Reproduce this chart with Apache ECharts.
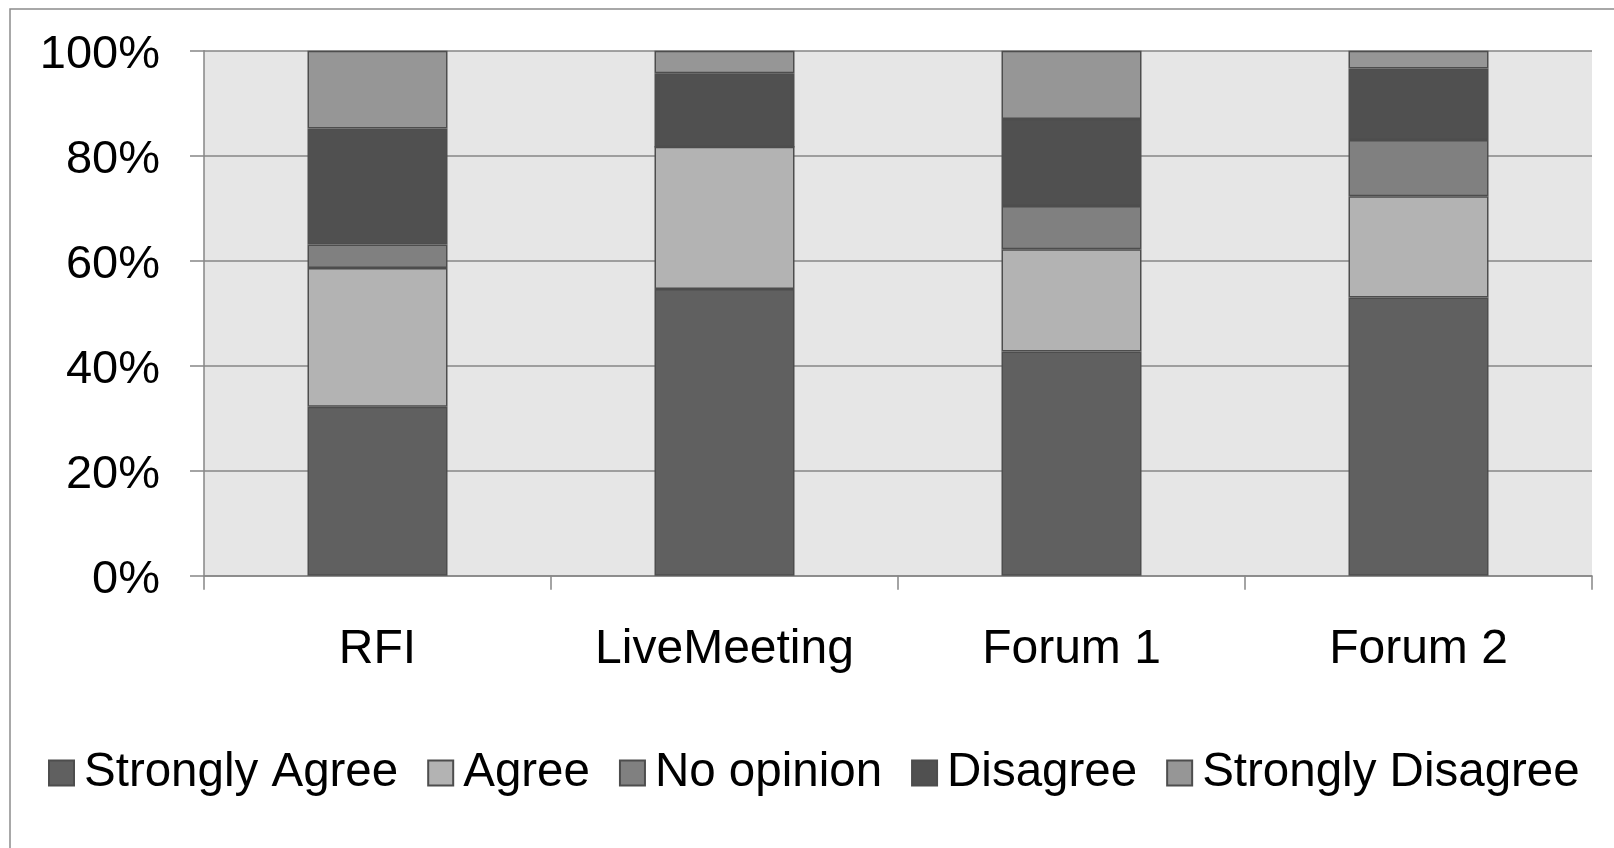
<!DOCTYPE html>
<html>
<head>
<meta charset="utf-8">
<script src="https://cdn.jsdelivr.net/npm/echarts@6/dist/echarts.min.js"></script>
<style>
html,body{margin:0;padding:0;background:#fff;}
#chart{width:1614px;height:848px;}
</style>
</head>
<body>
<div id="chart"></div>
<script>
var categories = ['RFI', 'LiveMeeting', 'Forum 1', 'Forum 2'];
var seriesNames = ['Strongly Agree', 'Agree', 'No opinion', 'Disagree', 'Strongly Disagree'];
var stronglyAgree    = [32.2, 54.6, 42.7, 53.0];
var agree            = [26.4, 27.1, 19.5, 19.3];
var noOpinion        = [4.5, 0, 8.2, 10.7];
var disagree         = [22.1, 14.0, 16.6, 13.6];
var stronglyDisagree = [14.8, 4.3, 13.0, 3.4];
var yTicks = [0, 20, 40, 60, 80, 100];

var colors = ['#606060', '#b3b3b3', '#808080', '#505050', '#969696'];
var values = [stronglyAgree, agree, noOpinion, disagree, stronglyDisagree];
var FONT = '"Liberation Sans", Arial, sans-serif';

var chart = echarts.init(document.getElementById('chart'), null, {renderer: 'canvas'});
var series = seriesNames.map(function (name, i) {
  return {
    name: name,
    type: 'bar',
    stack: 'total',
    barWidth: 140,
    data: values[i],
    itemStyle: {color: colors[i], borderColor: '#4d4d4d', borderWidth: 1.5},
    emphasis: {disabled: true}
  };
});

chart.setOption({
  animation: false,
  backgroundColor: '#ffffff',
  textStyle: {fontFamily: FONT},
  graphic: [{
    type: 'rect',
    shape: {x: 10, y: 9, width: 1800, height: 1000},
    style: {fill: 'none', stroke: '#8c8c8c', lineWidth: 1.5},
    silent: true,
    z: -10
  }],
  grid: {
    left: 204, right: 22, top: 50.7, bottom: 272.3,
    show: true, backgroundColor: '#e6e6e6', borderWidth: 0
  },
  legend: {
    data: seriesNames,
    icon: 'rect',
    left: 48, top: 749, padding: 0,
    itemWidth: 25, itemHeight: 25,
    itemGap: 29,
    textStyle: {fontSize: 47.5, color: '#000', fontFamily: FONT, padding: [0, 0, 0, 5]}
  },
  xAxis: {
    type: 'category',
    data: categories,
    boundaryGap: true,
    axisLine: {show: true, lineStyle: {color: '#868686', width: 1.5}},
    axisTick: {show: true, length: 14, alignWithLabel: false, lineStyle: {color: '#868686', width: 1.5}},
    axisLabel: {fontSize: 48, color: '#000', margin: 50, fontFamily: FONT},
    splitLine: {show: false}
  },
  yAxis: {
    type: 'value',
    min: yTicks[0], max: yTicks[yTicks.length - 1], interval: 20,
    axisLine: {show: true, lineStyle: {color: '#868686', width: 1.5}},
    axisTick: {show: true, length: 14, lineStyle: {color: '#868686', width: 1.5}},
    axisLabel: {
      color: '#000', margin: 44, fontFamily: FONT,
      formatter: '{a|{value}%}',
      rich: {a: {fontSize: 47, color: '#000', fontFamily: FONT, padding: [8, 0, 0, 0]}}
    },
    splitLine: {show: true, lineStyle: {color: '#868686', width: 1.5}}
  },
  series: series
});
</script>
</body>
</html>
